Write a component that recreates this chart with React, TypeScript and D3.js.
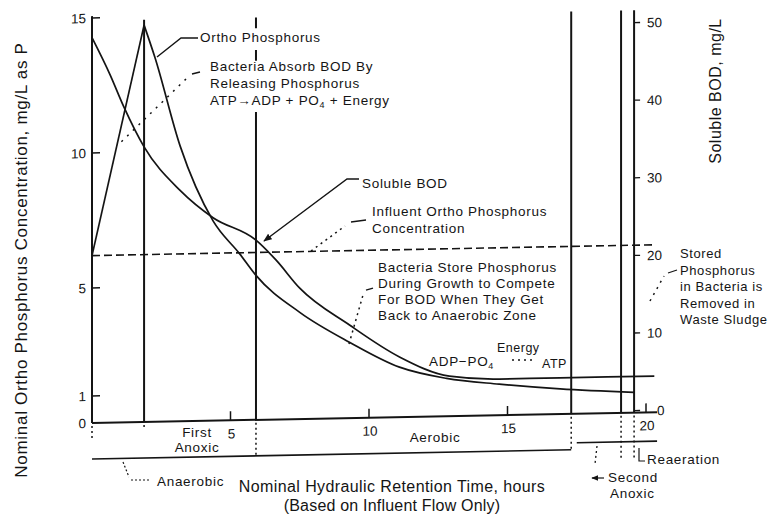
import React from 'react';
import * as d3 from 'd3';

// ortho phosphorus, mg/L as P (left axis)
const orthoTime = [0, 1.88, 2.27, 3.18, 4.37, 5.34, 5.92, 7.5, 9.31, 11.1, 12.8, 14.7, 16.9, 19.57];
const orthoValue = [6.2, 14.7, 13.5, 10.2, 7.4, 6.15, 5.35, 3.95, 2.8, 1.85, 1.4, 1.15, 0.93, 0.75];

// soluble BOD, mg/L (right axis)
const bodTime = [0, 0.65, 1.15, 1.88, 3.18, 4.37, 5.92, 6.64, 7.5, 9.31, 11.1, 12.9, 14.7, 16.9, 20.3];
const bodValue = [49.4, 44.6, 40.4, 35.2, 29.5, 25.9, 22.9, 20.3, 16.6, 11.7, 7.5, 4.9, 4.4, 4.4, 4.4];

const influentP = 6.2;
const zoneEdges = [1.88, 5.92, 17.3, 19.1, 19.57];
const leftTicks = [0, 1, 5, 10, 15];
const rightTicks = [0, 10, 20, 30, 40, 50];
const timeTicks = [5, 10, 15, 20];

const INK = '#141414';
const FONT = '"Liberation Sans", Arial, Helvetica, sans-serif';
const NOTE = { fontSize: 13.5, letterSpacing: 0.7 };

export default function App() {
  const x = d3.scaleLinear().domain([0, 20]).range([92, 646]);
  const yL = d3.scaleLinear().domain([0, 15]).range([423, 18]);
  const yR = d3.scaleLinear().domain([0, 50]).range([421, 33]);

  const ortho = orthoTime.map((t, i) => [t, orthoValue[i]] as [number, number]);
  const bodPts = bodTime.map((t, i) => [t, bodValue[i]] as [number, number]);

  const lineL = d3.line<[number, number]>().x(d => x(d[0])).y(d => yL(d[1]));
  const rise = lineL(ortho.slice(0, 2));
  const decay = lineL.curve(d3.curveMonotoneX)(ortho.slice(1));
  const bod = d3.line<[number, number]>()
    .x(d => x(d[0])).y(d => yR(d[1]))
    .curve(d3.curveMonotoneX)(bodPts);

  const x0 = x(0);
  const yAxis = yL(0);
  const xEnd = x(20.4);

  // which vertical boundary lines are broken by the annotation text
  const vSegments = (i: number) => {
    if (i === 0) return [[0, orthoValue[1] + 0.2]];
    if (i === 1) return [[14.5, 14.9], [13.3, 13.7], [0, 11.4]];
    return [[0, 14.9]];
  };

  return (
    <svg width={773} height={520} style={{ display: 'block', position: 'absolute', left: 0, top: 0, background: '#fff' }}
      fontFamily={FONT} fill={INK}>
      <defs>
        <marker id="arr" viewBox="0 0 10 10" refX="9" refY="5" markerWidth="6" markerHeight="6" orient="auto-start-reverse">
          <path d="M0,1 L10,5 L0,9 z" fill={INK} />
        </marker>
      </defs>

      {/* the printed figure sits slightly askew */}
      <g transform={`translate(${x0},${yAxis}) skewY(-1.1) translate(${-x0},${-yAxis})`}>
        <line x1={x0} x2={x0} y1={yL(15.07)} y2={yAxis} stroke={INK} strokeWidth={2} />
        <line x1={x0} x2={xEnd} y1={yAxis} y2={yAxis} stroke={INK} strokeWidth={2} />

        {leftTicks.map(v => (
          <g key={'l' + v}>
            {v > 0 && <line x1={x0} x2={x0 + 8} y1={yL(v)} y2={yL(v)} stroke={INK} strokeWidth={1.5} />}
            <text x={86} y={yL(v) + 5} fontSize={13.5} textAnchor="end">{v}</text>
          </g>
        ))}

        {timeTicks.map(t => (
          <g key={'t' + t}>
            <line x1={x(t)} x2={x(t)} y1={yAxis} y2={yAxis - 9} stroke={INK} strokeWidth={1.5} />
            <text x={x(t) + 1} y={yAxis + 18} fontSize={13.5} textAnchor="middle">{t}</text>
          </g>
        ))}

        {/* zone boundaries */}
        {zoneEdges.map((t, i) => (
          <g key={'z' + t}>
            {vSegments(i).map(([a, b], j) => (
              <line key={j} x1={x(t)} x2={x(t)} y1={yL(b)} y2={yL(a)} stroke={INK} strokeWidth={2} />
            ))}
            <line x1={x(t)} x2={x(t)} y1={yAxis + 3} y2={yAxis + (i >= 3 ? 47 : i === 0 ? 6 : 38)}
              stroke={INK} strokeWidth={1.5} strokeDasharray="2,3" />
          </g>
        ))}
        <line x1={x0} x2={x0} y1={yAxis + 3} y2={yAxis + 18} stroke={INK} strokeWidth={1.5} strokeDasharray="2,3" />

        {/* right axis ticks and labels */}
        {rightTicks.map(v => (
          <g key={'r' + v}>
            <line x1={x(19.57)} x2={x(19.57) + 6} y1={yR(v)} y2={yR(v)} stroke={INK} strokeWidth={1.3} />
            <text x={v === 0 ? 657 : 647} y={yR(v) + 5} fontSize={13.5}>{v}</text>
          </g>
        ))}

        {/* zone brackets below the axis */}
        <line x1={x0} x2={x(17.3)} y1={yAxis + 36} y2={yAxis + 36} stroke={INK} strokeWidth={1.6} />
        <line x1={x(17.5)} x2={x(20.4)} y1={yAxis + 29} y2={yAxis + 29} stroke={INK} strokeWidth={1.6} />

        {/* influent ortho P */}
        <line x1={x0} x2={x(20.3)} y1={yL(influentP)} y2={yL(influentP)} stroke={INK} strokeWidth={1.6} strokeDasharray="8,4" />

        <path d={rise || ''} fill="none" stroke={INK} strokeWidth={1.7} />
        <path d={decay || ''} fill="none" stroke={INK} strokeWidth={1.7} />
        <path d={bod || ''} fill="none" stroke={INK} strokeWidth={1.7} />
      </g>

      {/* axis titles */}
      <text transform="translate(27,260) rotate(-90)" fontSize={17} letterSpacing={0.7} textAnchor="middle">
        Nominal Ortho Phosphorus Concentration, mg/L as P
      </text>
      <text transform="translate(721,91) rotate(-90)" fontSize={16} letterSpacing={0.5} textAnchor="middle">
        Soluble BOD, mg/L
      </text>
      <text x={392} y={492} fontSize={16} letterSpacing={0.4} textAnchor="middle">Nominal Hydraulic Retention Time, hours</text>
      <text x={392} y={511} fontSize={16} letterSpacing={0.2} textAnchor="middle">(Based on Influent Flow Only)</text>

      {/* zone names */}
      <g {...NOTE}>
        <text x={197} y={437} textAnchor="middle">First</text>
        <text x={197} y={452} textAnchor="middle">Anoxic</text>
        <text x={435} y={442} textAnchor="middle">Aerobic</text>
        <text x={157} y={486}>Anaerobic</text>
        <text x={608} y={482}>Second</text>
        <text x={610} y={498}>Anoxic</text>
        <text x={647} y={464}>Reaeration</text>
      </g>
      <path d="M123,462 L129,477 M131,480 L151,480" fill="none" stroke={INK} strokeWidth={1.2} strokeDasharray="2,2" />
      <path d="M597,446 L595,464" fill="none" stroke={INK} strokeWidth={1.3} strokeDasharray="2,3" />
      <line x1={604} x2={592} y1={478} y2={478} stroke={INK} strokeWidth={1.2} markerEnd="url(#arr)" />
      <path d="M639,448 L639,461 L645,461" fill="none" stroke={INK} strokeWidth={1.2} />

      {/* annotations */}
      <path d="M157,57 L181,38 L198,38" fill="none" stroke={INK} strokeWidth={1.4} />
      <text x={200} y={42} {...NOTE}>Ortho Phosphorus</text>

      <path d="M200,72 L192,74" fill="none" stroke={INK} strokeWidth={1.3} />
      <path d="M186,79 L118,145" fill="none" stroke={INK} strokeWidth={1.5} strokeDasharray="2,6" />
      <text {...NOTE}>
        <tspan x={210} y={71}>Bacteria Absorb BOD By</tspan>
        <tspan x={210} y={88}>Releasing Phosphorus</tspan>
        <tspan x={210} y={105}>ATP→ADP + PO</tspan>
        <tspan fontSize={9} dy={3}>4</tspan>
        <tspan dy={-3}> + Energy</tspan>
      </text>

      <path d="M359,179 L347,179 L264,241" fill="none" stroke={INK} strokeWidth={1.4} markerEnd="url(#arr)" />
      <text x={362} y={188} {...NOTE}>Soluble BOD</text>

      <path d="M311,251 L345,226" fill="none" stroke={INK} strokeWidth={1.5} strokeDasharray="2,4" />
      <path d="M351,222 L366,220" fill="none" stroke={INK} strokeWidth={1.3} />
      <text {...NOTE}>
        <tspan x={372} y={216}>Influent Ortho Phosphorus</tspan>
        <tspan x={372} y={233}>Concentration</tspan>
      </text>

      <path d="M349,344 L363,295" fill="none" stroke={INK} strokeWidth={1.5} strokeDasharray="2,4" />
      <path d="M366,290 L373,288" fill="none" stroke={INK} strokeWidth={1.3} />
      <text {...NOTE}>
        <tspan x={378} y={272}>Bacteria Store Phosphorus</tspan>
        <tspan x={378} y={288}>During Growth to Compete</tspan>
        <tspan x={378} y={304}>For BOD When They Get</tspan>
        <tspan x={378} y={320}>Back to Anaerobic Zone</tspan>
      </text>

      <text {...NOTE}>
        <tspan x={429} y={366}>ADP−PO</tspan>
        <tspan fontSize={9} dy={3}>4</tspan>
      </text>
      <text x={497} y={352} fontSize={12.5} letterSpacing={0.5}>Energy</text>
      <path d="M512,360 L536,360" fill="none" stroke={INK} strokeWidth={1.5} strokeDasharray="2,4" />
      <text x={542} y={368} fontSize={12.5} letterSpacing={0.5}>ATP</text>

      <path d="M650,301 L664,276" fill="none" stroke={INK} strokeWidth={1.5} strokeDasharray="2,5" />
      <path d="M668,273 L677,270" fill="none" stroke={INK} strokeWidth={1.3} />
      <text fontSize={13} letterSpacing={0.6}>
        <tspan x={680} y={258}>Stored</tspan>
        <tspan x={680} y={275}>Phosphorus</tspan>
        <tspan x={680} y={291}>in Bacteria is</tspan>
        <tspan x={680} y={308}>Removed in</tspan>
        <tspan x={680} y={324}>Waste Sludge</tspan>
      </text>
    </svg>
  );
}
